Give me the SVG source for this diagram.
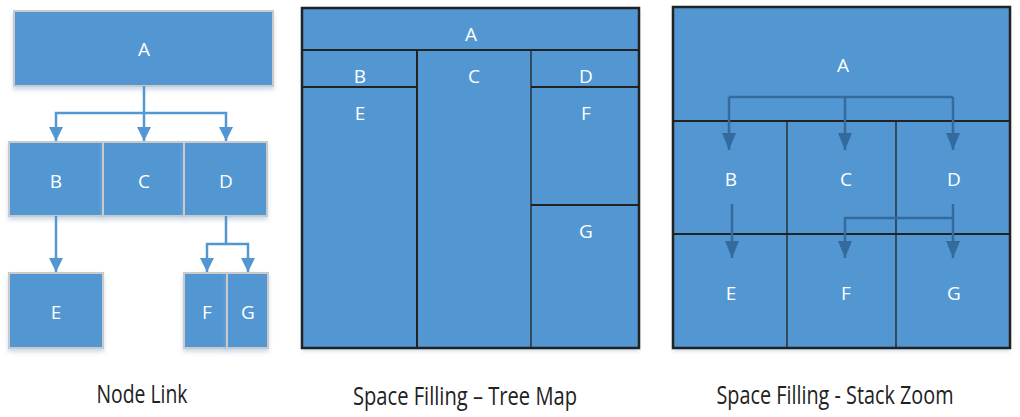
<svg xmlns="http://www.w3.org/2000/svg" width="1020" height="417" viewBox="0 0 1020 417">
<defs>
<style>
.nl{fill:#5397d2;stroke:#cacaca;stroke-width:2}
.tm{fill:#5397d2;stroke:none}
.dl{stroke:#222;fill:none}
.lbl{font-family:"Open Sans","Liberation Sans",sans-serif;font-size:19px;fill:#fff;text-anchor:middle}
.ttl{font-family:"Open Sans","Liberation Sans",sans-serif;font-size:25px;fill:#222;text-anchor:middle}
.c1{stroke:#5397d2;stroke-width:2.5;fill:none}
.c2{stroke:#346b9c;stroke-width:2.5;fill:none}
</style>
<marker id="ah1" viewBox="0 0 14 17" refX="14" refY="7" markerWidth="14" markerHeight="17" markerUnits="userSpaceOnUse" orient="auto"><path d="M0,0 L14,7 L0,14 Z" fill="#5397d2"/></marker>
<marker id="ah2" viewBox="0 0 17 14" refX="17" refY="7" markerWidth="17" markerHeight="14" markerUnits="userSpaceOnUse" orient="auto"><path d="M0,0 L17,7 L0,14 Z" fill="#346b9c"/></marker>
<filter id="sh" x="-10%" y="-10%" width="120%" height="130%"><feDropShadow dx="0" dy="3" stdDeviation="2" flood-color="#9bb8d6" flood-opacity="0.5"/></filter>
</defs>

<!-- Node Link -->
<g id="nl-A"><rect class="nl" x="14" y="11" width="259" height="75" filter="url(#sh)"/><text class="lbl" x="144" y="56">A</text></g>
<g id="nl-B"><rect class="nl" x="9" y="142" width="94" height="74" filter="url(#sh)"/><text class="lbl" x="56" y="188">B</text></g>
<g id="nl-C"><rect class="nl" x="103" y="142" width="81" height="74" filter="url(#sh)"/><text class="lbl" x="144" y="188">C</text></g>
<g id="nl-D"><rect class="nl" x="184" y="142" width="83" height="74" filter="url(#sh)"/><text class="lbl" x="226" y="188">D</text></g>
<g id="nl-E"><rect class="nl" x="9" y="273" width="94" height="75" filter="url(#sh)"/><text class="lbl" x="56" y="319">E</text></g>
<g id="nl-F"><rect class="nl" x="184" y="273" width="43" height="75" filter="url(#sh)"/><text class="lbl" x="207" y="319">F</text></g>
<g id="nl-G"><rect class="nl" x="227" y="273" width="41" height="75" filter="url(#sh)"/><text class="lbl" x="248" y="319">G</text></g>
<g id="nl-connectors">
<path class="c1" d="M144,86 V113"/>
<path class="c1" d="M144,113 H56 V141" marker-end="url(#ah1)"/>
<path class="c1" d="M144,113 V141" marker-end="url(#ah1)"/>
<path class="c1" d="M144,113 H226 V141" marker-end="url(#ah1)"/>
<path class="c1" d="M56,216 V272" marker-end="url(#ah1)"/>
<path class="c1" d="M226,216 V244"/>
<path class="c1" d="M226,244 H207 V272" marker-end="url(#ah1)"/>
<path class="c1" d="M226,244 H248 V272" marker-end="url(#ah1)"/>
</g>
<text class="ttl" x="142" y="403" textLength="91" lengthAdjust="spacingAndGlyphs">Node Link</text>

<!-- Tree Map -->
<g id="tm-A"><rect class="tm" x="302" y="8" width="337" height="340" filter="url(#sh)"/><text class="lbl" x="471" y="41">A</text></g>
<g id="tm-B"><text class="lbl" x="360" y="83">B</text></g>
<g id="tm-C"><text class="lbl" x="474" y="83">C</text></g>
<g id="tm-D"><text class="lbl" x="586" y="83">D</text></g>
<g id="tm-E"><text class="lbl" x="360" y="120">E</text></g>
<g id="tm-F"><text class="lbl" x="586" y="120">F</text></g>
<g id="tm-G"><text class="lbl" x="586" y="238">G</text></g>
<g id="tm-lines">
<path class="dl" stroke-width="2" d="M302,50 H639 M417,50 V348 M302,87 H417 M531,87 H639 M531,205 H639"/>
<path class="dl" stroke-width="1.3" d="M531,50 V348"/>
<rect class="dl" stroke-width="2.5" x="302" y="8" width="337" height="340"/>
</g>
<text class="ttl" x="465" y="405" textLength="224" lengthAdjust="spacingAndGlyphs">Space Filling – Tree Map</text>

<!-- Stack Zoom -->
<g id="sz-A"><rect class="tm" x="673" y="7" width="337" height="341" filter="url(#sh)"/><text class="lbl" x="843" y="72">A</text></g>
<g id="sz-B"><text class="lbl" x="731" y="186">B</text></g>
<g id="sz-C"><text class="lbl" x="846" y="186">C</text></g>
<g id="sz-D"><text class="lbl" x="954" y="186">D</text></g>
<g id="sz-E"><text class="lbl" x="731" y="300">E</text></g>
<g id="sz-F"><text class="lbl" x="846" y="300">F</text></g>
<g id="sz-G"><text class="lbl" x="954" y="300">G</text></g>
<g id="sz-lines">
<path class="dl" stroke-width="2" d="M673,121 H1010 M673,234 H1010"/>
<path class="dl" stroke-width="1.3" d="M787,121 V348 M896,121 V348"/>
<rect class="dl" stroke-width="2.5" x="673" y="7" width="337" height="341"/>
</g>
<g id="sz-connectors">
<path class="c2" d="M729,97 H953"/>
<path class="c2" d="M729,97 V150" marker-end="url(#ah2)"/>
<path class="c2" d="M845,97 V150" marker-end="url(#ah2)"/>
<path class="c2" d="M953,97 V150" marker-end="url(#ah2)"/>
<path class="c2" d="M732,204 V258" marker-end="url(#ah2)"/>
<path class="c2" d="M953,204 V258" marker-end="url(#ah2)"/>
<path class="c2" d="M953,218 H845 V258" marker-end="url(#ah2)"/>
</g>
<text class="ttl" x="835" y="404" textLength="237" lengthAdjust="spacingAndGlyphs">Space Filling - Stack Zoom</text>
</svg>
